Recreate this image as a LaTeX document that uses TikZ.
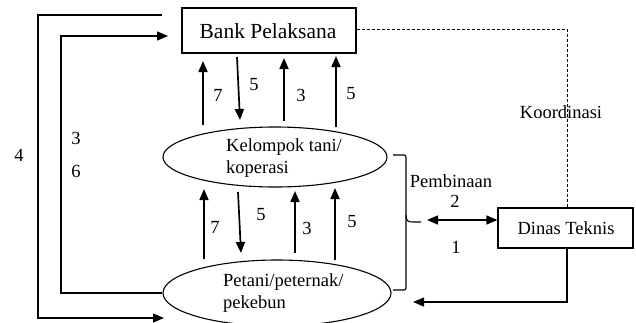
\documentclass[tikz,border=0pt]{standalone}
\usepackage{fontspec}
\setmainfont{Liberation Serif}
\usetikzlibrary{shapes.geometric,arrows.meta}
\begin{document}
\begin{tikzpicture}[x=1pt,y=-1pt,
  every node/.style={font=\fontsize{18.5}{22}\selectfont},
  boxnode/.style={draw,line width=1.2pt,inner sep=0pt},
  ellnode/.style={draw,ellipse,line width=1.1pt,inner sep=0pt},
  flow/.style={line width=1.7pt,-{Triangle[length=11pt,width=9pt]}},
  link/.style={line width=1.2pt},
  linkarrow/.style={line width=1.3pt,-{Triangle[length=11pt,width=9pt]}},
  dotline/.style={line width=0.8pt,dash pattern=on 3pt off 2pt},
  lbl/.style={inner sep=0pt}]
\useasboundingbox (0,0) rectangle (636,322);
\clip (0,0) rectangle (636,322);
\fill[white] (0,0) rectangle (636,322);

% nodes
\node[boxnode,minimum width=174pt,minimum height=45pt] (bank) at (269,30.5) {};
\node[lbl,font=\fontsize{21.5}{24}\selectfont] (banktext) at (268,31) {Bank Pelaksana};
\node[ellnode,minimum width=224pt,minimum height=60pt] (kel) at (275,157) {};
\node[lbl,anchor=west,align=left] (keltext) at (226,158) {Kelompok tani/\\koperasi};
\node[ellnode,minimum width=228pt,minimum height=66pt] (pet) at (277,293) {};
\node[lbl,anchor=west,align=left] (pettext) at (223,293) {Petani/peternak/\\pekebun};
\node[boxnode,minimum width=135pt,minimum height=40pt] (dinas) at (565.5,228) {};
\node[lbl] (dinastext) at (566,228) {Dinas Teknis};

% labels
\node[lbl] (lkoord) at (561,112) {Koordinasi};
\node[lbl] (lpemb) at (451,181) {Pembinaan};
\node[lbl] (ltwo) at (455,201) {2};
\node[lbl] (lone) at (456,247) {1};
\node[lbl] (lfour) at (19,155) {4};
\node[lbl] (lthree) at (76,138) {3};
\node[lbl] (lsix) at (76,171) {6};
\node[lbl] (a1) at (218,95) {7};
\node[lbl] (a2) at (254,85) {5};
\node[lbl] (a3) at (301,95) {3};
\node[lbl] (a4) at (351,94) {5};
\node[lbl] (b1) at (215,227) {7};
\node[lbl] (b2) at (261,215) {5};
\node[lbl] (b3) at (307,228) {3};
\node[lbl] (b4) at (352,222) {5};

% top vertical arrows
\coordinate (t1a) at (203,125); \coordinate (t1b) at (203,61);
\coordinate (t2a) at (237,57);  \coordinate (t2b) at (240,120);
\coordinate (t3a) at (284,121); \coordinate (t3b) at (284,58);
\coordinate (t4a) at (336,127); \coordinate (t4b) at (336,56);
\draw[flow] (t1a) -- (t1b);
\draw[flow] (t2a) -- (t2b);
\draw[flow] (t3a) -- (t3b);
\draw[flow] (t4a) -- (t4b);

% bottom vertical arrows
\coordinate (u1a) at (204,259); \coordinate (u1b) at (204,189);
\coordinate (u2a) at (238,192); \coordinate (u2b) at (241,253);
\coordinate (u3a) at (295,253); \coordinate (u3b) at (295,191);
\coordinate (u4a) at (335,260); \coordinate (u4b) at (335,188);
\draw[flow] (u1a) -- (u1b);
\draw[flow] (u2a) -- (u2b);
\draw[flow] (u3a) -- (u3b);
\draw[flow] (u4a) -- (u4b);

% left loops
\coordinate (o1) at (162,15); \coordinate (o2) at (164,318);
\draw[linkarrow] (o1) -- (38,15) -- (38,318) -- (o2);
\coordinate (i2) at (168,36);
\draw[linkarrow] (pet.west) -- (61,293) -- (61,36) -- (i2);

% coordination dashed
\draw[dotline] (bank.east |- 0,29) -- (567,29) -- (dinas.north -| 567,0);

% brace
\draw[line width=1.1pt,rounded corners=2pt] (393,155) -- (406,155) -- (406,290) -- (393,290);
\draw[line width=1.1pt] (406,215) .. controls (406,221) and (408,222) .. (413,222) -- (421,222);

% pembinaan double arrow
\coordinate (p1) at (427,220);
\draw[line width=1.3pt,{Triangle[length=11pt,width=9pt]}-{Triangle[length=11pt,width=9pt]}] (p1) -- (p1 -| dinas.west);

% dinas to petani
\coordinate (d2) at (413,302);
\draw[linkarrow] (dinas.south -| 567,0) -- (567,302) -- (d2);
\end{tikzpicture}
\end{document}
